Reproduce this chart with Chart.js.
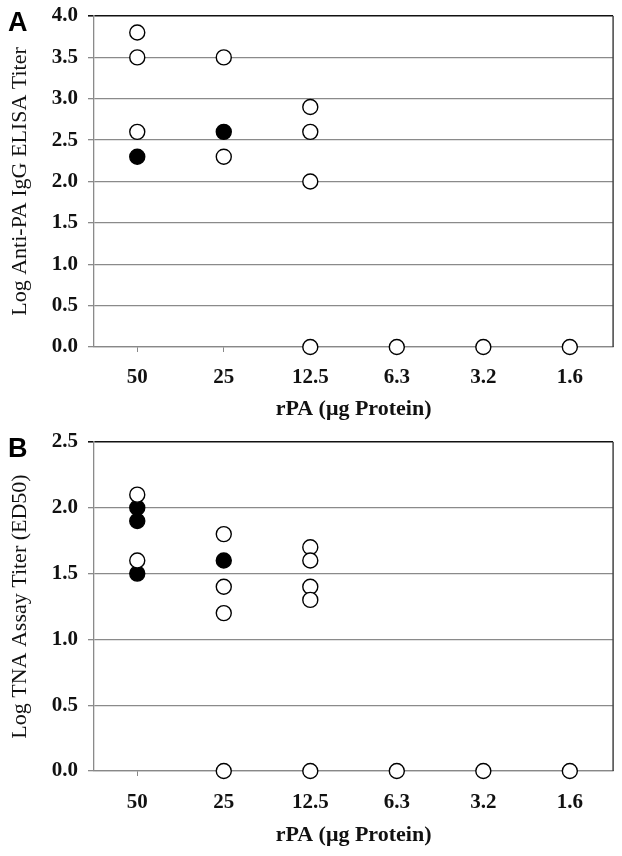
<!DOCTYPE html>
<html lang="en">
<head>
    <meta charset="UTF-8">
    <title>rPA dose response</title>
    <script src="https://cdn.jsdelivr.net/npm/chart.js"></script>
    <style>
        body {
            margin: 0;
            background: #fff;
        }
        .wrap {
            position: relative;
            width: 622px;
            height: 856px;
        }
        .panel {
            position: absolute;
            left: 0;
            width: 622px;
        }
        .tag {
            position: absolute;
            left: 8px;
            font-family: "Liberation Sans", Arial, sans-serif;
            font-weight: bold;
            font-size: 27px;
            line-height: 1;
        }
    </style>
</head>
<body>
<div class="wrap">
    <div class="panel" style="top:0;height:420px;"><canvas id="chartA"></canvas></div>
    <div class="panel" style="top:420px;height:436px;"><canvas id="chartB"></canvas></div>
    <div class="tag" style="top:9px;">A</div>
    <div class="tag" style="top:435px;">B</div>
</div>

<script>
    const doses = ['50', '25', '12.5', '6.3', '3.2', '1.6'];

    // one list of values per dose (same order as doses)
    const elisaOpen = [[3.8, 3.5, 2.6], [3.5, 2.3], [2.9, 2.6, 2.0, 0], [0], [0], [0]];
    const elisaFilled = [[2.3], [2.6], [], [], [], []];
    const tnaOpen = [[2.1, 1.6], [1.8, 1.4, 1.2, 0], [1.7, 1.6, 1.4, 1.3, 0], [0], [0], [0]];
    const tnaFilled = [[2.0, 1.9, 1.5], [1.6], [], [], [], []];

    const serif = '"Liberation Serif", "Times New Roman", serif';

    function toPoints(groups) {
        const pts = [];
        groups.forEach((vals, i) => vals.forEach(v => pts.push({ x: doses[i], y: v })));
        return pts;
    }

    const frame = {
        id: 'frame',
        afterDatasetsDraw(chart) {
            const { ctx, chartArea } = chart;
            ctx.save();
            ctx.strokeStyle = '#444';
            ctx.lineWidth = 1.5;
            ctx.beginPath();
            ctx.moveTo(chartArea.right, chartArea.top);
            ctx.lineTo(chartArea.right, chartArea.bottom);
            ctx.stroke();
            ctx.restore();
        }
    };

    function drawChart(id, openVals, filledVals, yMax, yTitle, padTop, padBottom, xHeight, xPad) {
        const ctx = document.getElementById(id).getContext('2d');
        new Chart(ctx, {
            type: 'line',
            data: {
                labels: doses,
                datasets: [{
                    label: 'open',
                    data: toPoints(openVals),
                    showLine: false,
                    pointRadius: 7.5,
                    pointBorderWidth: 1.4,
                    pointBorderColor: '#000',
                    pointBackgroundColor: '#fff',
                    clip: false
                }, {
                    label: 'filled',
                    data: toPoints(filledVals),
                    showLine: false,
                    pointRadius: 7.5,
                    pointBorderWidth: 1.4,
                    pointBorderColor: '#000',
                    pointBackgroundColor: '#000',
                    clip: false
                }]
            },
            options: {
                responsive: true,
                maintainAspectRatio: false,
                animation: false,
                layout: { padding: { left: 0, right: 7, top: padTop, bottom: padBottom } },
                plugins: {
                    legend: { display: false },
                    tooltip: { enabled: false }
                },
                scales: {
                    x: {
                        type: 'category',
                        offset: true,
                        grid: {
                            offset: false,
                            drawOnChartArea: false,
                            drawTicks: true,
                            tickLength: 5,
                            tickColor: '#888'
                        },
                        border: { color: '#888', width: 1.3 },
                        ticks: {
                            color: '#111',
                            padding: xPad,
                            font: { family: serif, size: 21, weight: 'bold' }
                        },
                        title: {
                            display: true,
                            text: 'rPA (\u03bcg Protein)',
                            color: '#111',
                            padding: 0,
                            font: { family: serif, size: 22, weight: 'bold', lineHeight: 1 }
                        },
                        afterFit: s => {
                            s.height = xHeight;
                            s.paddingLeft = 0;
                            s.paddingRight = 0;
                        }
                    },
                    y: {
                        min: 0,
                        max: yMax,
                        ticks: {
                            stepSize: 0.5,
                            color: '#111',
                            padding: 10,
                            font: { family: serif, size: 21, weight: 'bold' },
                            callback: v => v.toFixed(1)
                        },
                        grid: {
                            color: c => (c.tick && c.tick.value === yMax) ? '#111' : '#8a8a8a',
                            lineWidth: c => (c.tick && c.tick.value === yMax) ? 1.6 : 1.3,
                            tickLength: 6
                        },
                        border: { color: '#8a8a8a', width: 1.3 },
                        title: {
                            display: true,
                            text: yTitle,
                            color: '#111',
                            padding: { top: 7, bottom: 0 },
                            font: { family: serif, size: 22 }
                        },
                        afterFit: s => {
                            s.width = 94;
                            s.paddingTop = 0;
                            s.paddingBottom = 0;
                        }
                    }
                }
            },
            plugins: [frame]
        });
    }

    drawChart('chartA', elisaOpen, elisaFilled, 4.0, 'Log Anti-PA IgG ELISA Titer', 16, 0, 73, 13);
    drawChart('chartB', tnaOpen, tnaFilled, 2.5, 'Log TNA Assay Titer (ED50)', 22, 10, 75, 14);
</script>
</body>
</html>
